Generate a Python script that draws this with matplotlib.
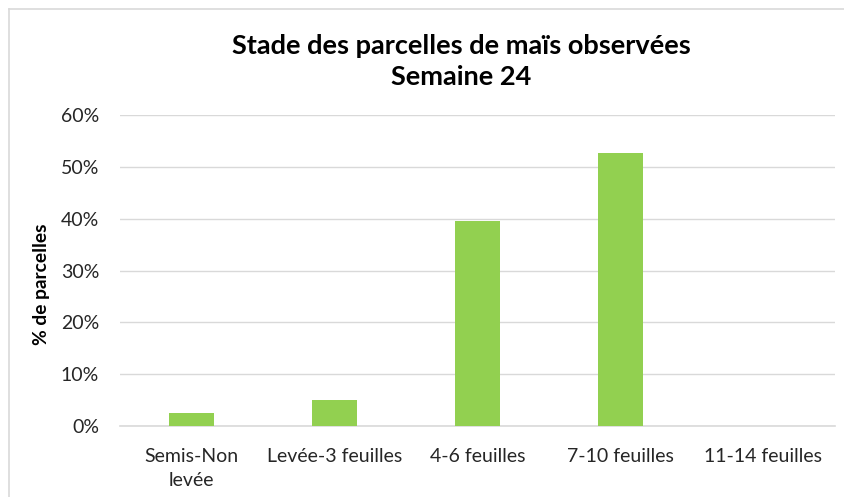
import matplotlib
matplotlib.use("Agg")
import matplotlib.pyplot as plt
from matplotlib.lines import Line2D
from matplotlib.ticker import FuncFormatter, MultipleLocator

categories = ["Semis-Non\nlevée", "Levée-3 feuilles", "4-6 feuilles", "7-10 feuilles", "11-14 feuilles"]
values = [2.5, 5.0, 39.5, 52.6, 0.0]
title = "Stade des parcelles de maïs observées\nSemaine 24"
ylabel = "% de parcelles"

plt.rcParams['font.family'] = ['Lato', 'DejaVu Sans']

fig = plt.figure(figsize=(8.44, 4.97), dpi=100)
ax = fig.add_axes([120/844, 1-426/497, 715/844, 311/497])

x = list(range(len(categories)))
ax.bar(x, values, width=0.315, color="#92D050", zorder=3)
ax.set_xlim(-0.5, len(categories)-0.5)
ax.set_ylim(0, 60)
ax.yaxis.set_major_locator(MultipleLocator(10))
ax.yaxis.set_major_formatter(FuncFormatter(lambda v, p: f"{v:.0f}%"))
ax.set_xticks(x)
ax.set_xticklabels(categories, fontsize=14, color="#262626", linespacing=1.5)
ax.tick_params(axis='y', labelsize=14, colors="#262626", length=0, pad=15)
ax.tick_params(axis='x', length=0, pad=16)
ax.grid(axis='y', color="#d9d9d9", linewidth=1.0, zorder=0)
for s in ["top", "right", "left"]:
    ax.spines[s].set_visible(False)
ax.spines["bottom"].set_color("#d9d9d9")
ax.spines["bottom"].set_linewidth(1.2)

ax.set_ylabel(ylabel, fontsize=13.8, fontweight='bold', color="black", va='center')
ax.yaxis.set_label_coords((42-120)/715, (426-284.5)/311)
fig.text(461.5/844, 1-61.5/497, title, ha='center', va='center', fontsize=19.5,
         fontweight='bold', linespacing=1.35)

# chart frame (top and left visible)
fig.add_artist(Line2D([9/844, 1], [1-9/497, 1-9/497], color="#d9d9d9", lw=1.2, transform=fig.transFigure))
fig.add_artist(Line2D([9/844, 9/844], [0, 1-9/497], color="#d9d9d9", lw=1.2, transform=fig.transFigure))

fig.savefig("out.png", dpi=100)
